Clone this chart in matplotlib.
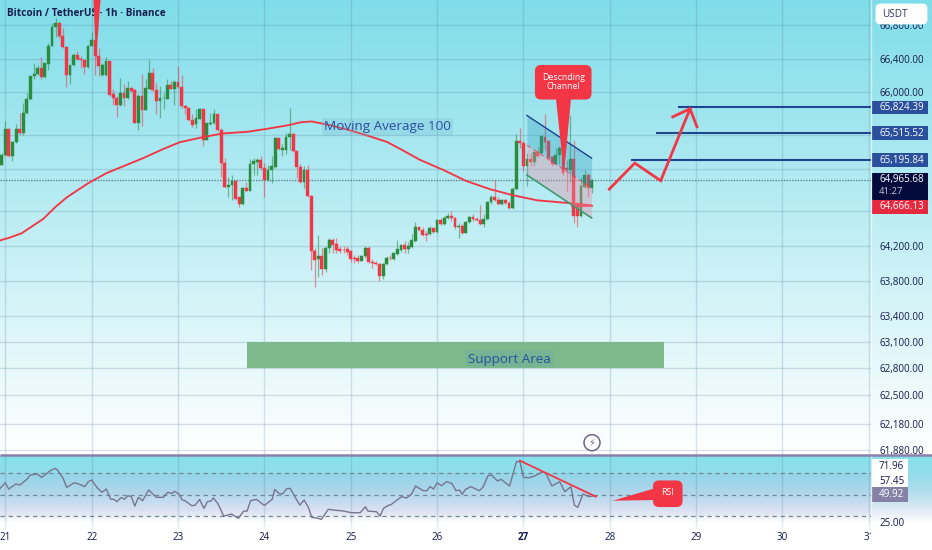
import numpy as np
import matplotlib
matplotlib.use("Agg")
import matplotlib.pyplot as plt
from matplotlib.patches import FancyBboxPatch, Rectangle, Polygon, Circle
from matplotlib.ticker import NullLocator
from matplotlib.transforms import Bbox

plt.rcParams['font.family'] = ['Open Sans', 'DejaVu Sans']

opens = [65145,65263,65571,65243,65413,65571,65520,65757,65915,66191,66223,66290,66180,66342,66547,66784,66831,66673,66539,66203,66322,66440,66401,66381,66302,66555,66618,66428,66203,66203,66377,65974,65935,65844,65986,65931,66045,66026,65638,65954,65789,66041,66231,66026,65895,65927,65923,66081,66041,66120,66061,65836,65816,65666,65619,65686,65796,65441,65619,65631,65737,65552,65164,64880,64908,64959,64762,64683,64868,64841,65157,65173,65204,65105,64967,65085,65117,65461,65322,65322,65473,65508,65303,65113,64947,65085,64781,64145,64047,64086,63932,64177,64264,64217,64161,64157,64161,64137,64059,64055,64031,64078,64177,64019,64007,63991,63853,63987,64066,64047,64110,64157,64205,64169,64193,64256,64414,64382,64335,64335,64406,64363,64501,64453,64525,64552,64525,64414,64430,64355,64473,64533,64513,64501,64453,64513,64706,64770,64738,64683,64738,64698,64639,64856,65421,65401,65133,65216,65172,65291,65283,65473,65421,65232,65157,65263,65342,65105,65085,65216,64690,64544,64888,65026,64876]
closes = [65263,65571,65243,65413,65571,65520,65757,65923,66191,66223,66290,66180,66349,66555,66784,66831,66673,66539,66203,66322,66440,66401,66381,66302,66555,66618,66428,66310,66322,66377,65966,65927,65844,65986,65931,66045,66014,65638,65954,65789,66045,66231,66026,65895,65927,65935,66081,66041,66120,66061,65836,65808,65666,65615,65690,65796,65441,65631,65638,65737,65552,65164,64880,64908,64959,64750,64683,64868,64841,65157,65184,65204,65105,64967,65085,65125,65461,65334,65342,65473,65508,65303,65113,64947,65085,64781,64145,64039,64078,63932,64177,64264,64209,64157,64145,64149,64130,64051,64051,64031,64082,64177,64011,63999,63995,63853,63991,64066,64055,64118,64165,64205,64169,64197,64264,64414,64382,64327,64327,64406,64363,64501,64453,64529,64552,64525,64414,64430,64355,64477,64533,64509,64501,64453,64513,64710,64770,64730,64683,64730,64698,64639,64856,65421,65401,65133,65216,65172,65291,65243,65480,65417,65224,65157,65263,65342,65046,65085,65216,64552,64544,64896,65026,64868,64967]
highs = [65283,65658,65579,65421,65619,65749,65875,65994,66199,66349,66330,66421,66349,66586,66823,66883,66843,66764,66547,66322,66468,66488,66428,66397,66567,66725,66618,66527,66349,66421,66377,66033,65954,66164,66093,66132,66065,66033,65974,66223,66152,66381,66290,66112,66073,65994,66160,66132,66144,66310,66211,65844,65828,65737,65796,65816,65804,65638,65757,65796,65737,65579,65224,65006,65026,64967,64769,64880,64947,65212,65224,65224,65243,65164,65145,65243,65473,65461,65394,65520,65816,65520,65315,65157,65125,65137,64789,64177,64323,64177,64197,64295,64288,64288,64197,64197,64197,64157,64090,64098,64098,64197,64197,64051,64027,63999,63999,64078,64090,64126,64264,64217,64256,64244,64335,64473,64434,64414,64374,64434,64422,64513,64525,64552,64580,64604,64540,64461,64453,64485,64544,64572,64533,64671,64572,64722,64789,64967,64770,64750,64750,64722,64880,65512,65579,65421,65283,65283,65303,65354,65500,65737,65441,65263,65342,65362,65362,65204,65725,65441,64710,65006,65085,65046,64975]
lows = [65137,65243,65236,65184,65402,65500,65500,65737,65907,66152,66211,66152,66172,66270,66547,66665,66646,66527,66065,66093,66310,66389,66290,66223,66290,66547,66211,66199,66199,66199,65954,65844,65710,65836,65836,65923,66002,65631,65559,65599,65789,66033,66014,65737,65698,65804,65915,66033,65844,66053,65816,65737,65658,65591,65579,65678,65362,65433,65607,65619,65540,65006,64868,64769,64738,64730,64651,64675,64841,64833,65026,65026,65085,64769,64959,64935,65105,65322,65251,65275,65322,65291,64987,64927,64868,64769,63920,63723,63841,63869,63900,64118,64118,64118,64118,64118,64090,64019,63999,64007,64027,64066,63999,63948,63979,63794,63814,63979,64039,64039,64098,64130,64118,64118,64177,64248,64374,64315,64256,64327,64355,64355,64446,64446,64513,64493,64394,64295,64343,64347,64465,64493,64485,64446,64414,64501,64690,64722,64671,64671,64683,64631,64631,64848,65342,65066,64896,65125,65133,65236,65275,65322,65212,65125,65145,65157,65026,64841,64947,64461,64422,64532,64868,64762,64809]

ma_days = [20.94,21.05,21.19,21.32,21.44,21.58,21.71,21.85,21.96,22.17,22.41,22.60,22.83,23.02,23.25,23.51,23.80,24.03,24.26,24.43,24.55,24.76,24.99,25.22,25.42,25.61,25.80,26.07,26.34,26.61,26.88,27.16,27.56,27.79]
ma_values = [64264,64296,64347,64434,64513,64651,64762,64856,64928,65046,65145,65224,65330,65409,65461,65512,65532,65567,65607,65646,65654,65610,65550,65479,65413,65310,65203,65085,64954,64860,64788,64729,64694,64670]

rsi_days = [20.94,21.00,21.04,21.12,21.17,21.25,21.29,21.37,21.42,21.46,21.52,21.58,21.61,21.67,21.71,21.80,21.86,21.92,21.96,22.00,22.06,22.12,22.17,22.22,22.26,22.29,22.34,22.38,22.42,22.46,22.50,22.54,22.59,22.66,22.75,22.83,22.88,22.93,22.96,23.01,23.05,23.08,23.16,23.20,23.25,23.30,23.34,23.38,23.41,23.46,23.53,23.62,23.70,23.76,23.80,23.84,23.91,24.00,24.07,24.09,24.12,24.17,24.21,24.26,24.30,24.36,24.41,24.46,24.51,24.55,24.61,24.66,24.74,24.80,24.92,25.01,25.11,25.17,25.20,25.30,25.34,25.38,25.44,25.46,25.55,25.59,25.65,25.71,25.75,25.84,25.88,25.92,25.96,26.00,26.05,26.11,26.17,26.22,26.26,26.29,26.33,26.39,26.49,26.53,26.59,26.63,26.70,26.74,26.84,26.92,26.96,27.00,27.07,27.13,27.22,27.26,27.33,27.42,27.48,27.55,27.59,27.63,27.69,27.76,27.83]
rsi_values = [55.6,60.8,55.0,59.6,58.7,63.9,67.9,68.8,65.7,67.9,71.8,74.0,71.8,64.8,56.5,60.8,59.3,57.2,61.7,63.3,56.5,52.0,55.0,45.8,45.5,43.4,47.1,45.8,48.9,48.0,39.4,47.4,44.3,54.1,47.4,47.4,52.0,51.0,52.9,50.4,44.9,44.3,39.7,40.3,45.5,37.3,43.4,44.0,46.8,41.9,30.2,32.1,28.1,34.8,34.8,44.3,45.5,40.0,44.3,45.5,54.7,51.0,50.4,55.3,55.6,47.1,40.3,44.9,38.2,29.0,28.4,27.2,36.4,35.8,34.8,33.3,33.3,38.8,34.8,34.2,30.2,37.3,40.3,40.3,45.8,48.0,46.8,51.0,57.8,53.5,53.5,57.2,55.0,60.8,58.1,61.7,60.2,53.5,54.1,50.1,54.7,57.2,53.5,56.5,67.2,67.9,62.4,63.9,57.8,80.1,80.1,65.7,65.4,66.9,70.9,69.4,57.8,61.7,52.6,57.2,40.3,38.2,50.4,48.0,48.9]

price_ticks = [66800,66400,66000,65500,65100,64600,64200,63800,63400,63100,62800,62500,62180,61880]
hidden_ticks = [65500,65100,64600]
day_ticks = [21,22,23,24,25,26,27,28,29,30]
rsi_levels = [70,50,30]
level_prices = [65824.39,65515.52,65195.84]
level_starts = [28.79,28.54,28.25]
last_price = 64965.68
ma_last = 64666.13

channel_days = [27.04,27.79]
channel_top = [65725,65223]
channel_mid = [65375,64874]
channel_bot = [65025,64524]
path_days = [27.995,28.29,28.59,28.93]
path_prices = [64860,65164,64958,65804]
head_days = [28.73,28.93,29.01]
head_prices = [65709,65804,65591]
support_days = [23.80,28.63]
support_prices = [62800,63100]
rsi_trend_days = [26.96,27.84]
rsi_trend_values = [81.0,48.0]

W, H = 932, 550
RED = '#f23645'
GREEN = '#2b8c3e'
NAVY = '#2a4f9c'
INK = '#151b4d'
GRID_C = '#456e94'
GRID_A = 0.2

fig = plt.figure(figsize=(W/100, H/100), dpi=100, facecolor='white')

def rect(x0, ytop, x1, ybot):
    return [x0/W, 1-ybot/H, (x1-x0)/W, (ybot-ytop)/H]

# background gradients
bg = fig.add_axes([0, 0, 1, 1], zorder=-1)
bg.set_xlim(0, W); bg.set_ylim(H, 0); bg.axis('off')
img = np.ones((H, 1, 3))
top = np.array([127, 221, 233])/255
for r in range(0, 454):
    t = r/452
    img[r, 0] = top*(1-t) + np.array([1, 1, 1])*t
stops_t = [0, .3, .55, .8, 1]
stops = np.array([[133,225,235],[150,221,235],[180,222,238],[222,233,245],[253,254,254]])/255
for r in range(455, 522):
    t = (r-455)/67
    img[r, 0] = [np.interp(t, stops_t, stops[:, c]) for c in range(3)]
bg.imshow(img, extent=[0, W, H, 0], aspect='auto', interpolation='nearest')

day_l = 21-5.3/86.35
day_r = 21+(871-5.3)/86.35

# main pane
ax = fig.add_axes(rect(0, 0, 871, 454.5))
ax.patch.set_alpha(0)
ax.set_yscale('log')
ax.set_xlim(day_l, day_r)
ax.set_ylim(61835, 67105)
for s in ax.spines.values():
    s.set_visible(False)
ax.yaxis.tick_right()
ax.set_yticks(price_ticks)
ax.set_yticklabels(['' if p in hidden_ticks else f'{p:,.2f}' for p in price_ticks], fontsize=7.1, color=INK)
ax.yaxis.set_minor_locator(NullLocator())
ax.tick_params(axis='y', which='both', length=0, pad=5.8)
ax.set_xticks(day_ticks + [31])
ax.tick_params(axis='x', length=0, labelbottom=False)
ax.grid(True, color=GRID_C, alpha=GRID_A, lw=1)
ax.set_axisbelow(True)

n = len(opens)
t = 21 + (np.arange(n)-1)/24
o, c, hi, lo = map(np.array, (opens, closes, highs, lows))
up = c >= o
cols = np.where(up, GREEN, RED)
ax.axhline(last_price, color='#5b7d8a', lw=1, ls=(0, (1, 1)), zorder=1.5)
ax.vlines(t, lo, hi, colors=cols, lw=0.9, alpha=0.55, zorder=2.2)
ax.bar(t, np.abs(c-o), bottom=np.minimum(o, c), width=0.033, color=cols, lw=0.3, edgecolor=cols, zorder=2.4)
ax.plot(ma_days, ma_values, color=RED, lw=1.35, zorder=2.6, solid_capstyle='round')
ax.plot([27.56, 27.79], [ma_last, ma_last], color=RED, lw=1.2, zorder=2.6)

# channel
ax.fill_between(channel_days, channel_mid, channel_top, color='#2f9fc0', alpha=0.33, lw=0, zorder=2.7)
ax.fill_between(channel_days, channel_bot, channel_mid, color='#e890a8', alpha=0.38, lw=0, zorder=2.7)
ax.plot(channel_days, channel_top, color='#1f3f8f', lw=1, zorder=2.8)
ax.plot(channel_days, channel_bot, color='#3f9a72', lw=1.2, zorder=2.8)
ax.plot(channel_days, channel_mid, color=RED, lw=0.8, ls=(0, (4, 3)), alpha=.7, zorder=2.8)

# levels + arrow
for p, s in zip(level_prices, level_starts):
    ax.plot([s, day_r], [p, p], color='#1f4590', lw=1.5, zorder=2.8, solid_capstyle='butt')
ax.plot(path_days, path_prices, color=RED, lw=2.0, zorder=2.9, solid_joinstyle='miter')
ax.plot(head_days, head_prices, color=RED, lw=2.0, zorder=2.9, solid_joinstyle='miter')

# support
ax.fill_between(support_days, support_prices[0], support_prices[1], color='#7db98a', lw=0, zorder=2.3)

# RSI pane
rs = fig.add_axes(rect(0, 455, 871, 522))
rs.patch.set_alpha(0)
rs.set_xlim(day_l, day_r)
rs.set_ylim(24.8, 86.2)
for s in rs.spines.values():
    s.set_visible(False)
rs.set_xticks(day_ticks + [31])
rs.set_yticks([25])
rs.set_yticklabels(['25.00'], fontsize=7.1, color=INK)
rs.yaxis.tick_right()
rs.tick_params(axis='y', length=0, pad=5.8)
rs.tick_params(axis='x', length=0, labelbottom=False)
rs.grid(True, axis='x', color=GRID_C, alpha=GRID_A, lw=1)
rs.axhspan(30, 70, color='#8a78c8', alpha=0.07, lw=0)
for lv in rsi_levels:
    rs.axhline(lv, color='#6f8798', lw=0.9, ls=(0, (3.5, 3)))
rs.plot(rsi_days, rsi_values, color='#77768f', lw=1.0, zorder=3)
rs.plot(rsi_trend_days, rsi_trend_values, color=RED, lw=1.3, zorder=4)

# overlay for labels, tags and callouts
d = fig.add_axes([0, 0, 1, 1], zorder=5)
d.set_xlim(0, W); d.set_ylim(H, 0); d.axis('off')
d.patch.set_alpha(0)

for day in day_ticks + [31]:
    xp = 5.3 + 86.35*(day-21)
    d.plot([xp, xp], [522, 528], color=GRID_C, alpha=0.12, lw=1)
d.plot([871, 871], [0, 522], color='white', alpha=0.55, lw=1)
d.plot([0, 932], [454.8, 454.8], color='#8b80a8', lw=1.8, solid_capstyle='butt')

d.text(7, 14, 'Bitcoin / TetherUS · 1h · Binance', fontsize=7.2, fontweight='bold', color=INK, va='center', ha='left')

# USDT
d.add_patch(FancyBboxPatch((877, 5), 49, 18, boxstyle='round,pad=0,rounding_size=3', fc='white', ec='white', lw=2))
d.text(882, 14.5, 'USDT', fontsize=7.2, color='#30386b', va='center')

# price tags
tags = [(level_prices[0], 100.7, 114, NAVY), (level_prices[1], 126.3, 140, NAVY), (level_prices[2], 153.3, 166.7, NAVY)]
for val, y0, y1, col in tags:
    d.add_patch(Rectangle((872, y0), 56, y1-y0, fc=col, ec='none'))
    d.text(879, (y0+y1)/2, f'{val:,.2f}', fontsize=7.1, color='white', va='center')
d.add_patch(Rectangle((872, 172.7), 56, 27.3, fc='#030b3c', ec='none'))
d.text(879, 179.5, f'{last_price:,.2f}', fontsize=7.1, color='white', va='center')
d.text(879, 192, '41:27', fontsize=6.8, color='#c9c9d8', va='center')
d.add_patch(Rectangle((872, 200), 56, 13.7, fc='#e7293f', ec='none'))
d.text(879, 206.8, f'{ma_last:,.2f}', fontsize=7.1, color='white', va='center')

# RSI tags
d.add_patch(Rectangle((872, 459), 36, 28.3, fc='white', ec='none'))
d.text(879, 466.3, '71.96', fontsize=7.1, color=INK, va='center')
d.text(879, 481, '57.45', fontsize=7.1, color=INK, va='center')
d.add_patch(Rectangle((872, 487.3), 36, 14.7, fc='#8682a6', ec='none'))
d.text(879, 494.8, '49.92', fontsize=7.1, color='white', va='center')

# day labels
for day in day_ticks:
    d.text(5.3 + 86.35*(day-21), 538, str(day), fontsize=7.1, color=INK, ha='center', va='center',
           fontweight='bold' if day == 27 else 'normal')
clip31 = d.text(869, 538, '31', fontsize=7.1, color=INK, ha='center', va='center')
clip31.set_clip_box(Bbox([[0, 0], [871, 550]]))
clip31.set_clip_on(True)

# text labels
d.add_patch(Rectangle((322, 117.7), 131, 18, fc='#6fb6d0', ec='none', alpha=0.25))
d.text(387, 126.5, 'Moving Average 100', fontsize=9.7, color=NAVY, ha='center', va='center')
d.add_patch(Rectangle((466, 350), 87, 17, fc='#6aa5a8', ec='none', alpha=0.35))
d.text(509.5, 359, 'Support Area', fontsize=9.6, color=NAVY, ha='center', va='center')

# callouts
d.add_patch(Polygon([(556, 99), (571, 99), (564, 173)], fc=RED, ec='none', zorder=3))
d.add_patch(FancyBboxPatch((536, 66), 54.5, 32.5, boxstyle='round,pad=0,rounding_size=5', fc=RED, ec=RED, lw=1.5, zorder=3))
d.text(563.5, 82, 'Descnding\nChannel', fontsize=6.3, color='white', ha='center', va='center', linespacing=1.05, zorder=4)
d.add_patch(Polygon([(93.5, 0), (100.5, 0), (96, 60)], fc=RED, ec='none', zorder=3))
d.add_patch(Polygon([(612.7, 500.7), (656, 488), (656, 500)], fc=RED, ec='none', zorder=3))
d.add_patch(FancyBboxPatch((654, 481.5), 27.5, 24.5, boxstyle='round,pad=0,rounding_size=5', fc=RED, ec=RED, lw=1.5, zorder=3))
d.text(667.5, 492.5, 'RSI', fontsize=6.3, color='white', ha='center', va='center', zorder=4)

# flash icon
d.add_patch(Circle((592, 442.7), 8, fc='white', ec='#6b6585', lw=1.1))
d.text(592, 442.7, '\u26a1', fontsize=7, color='#6b6585', ha='center', va='center', family='DejaVu Sans')

fig.savefig('out.png', dpi=100)
